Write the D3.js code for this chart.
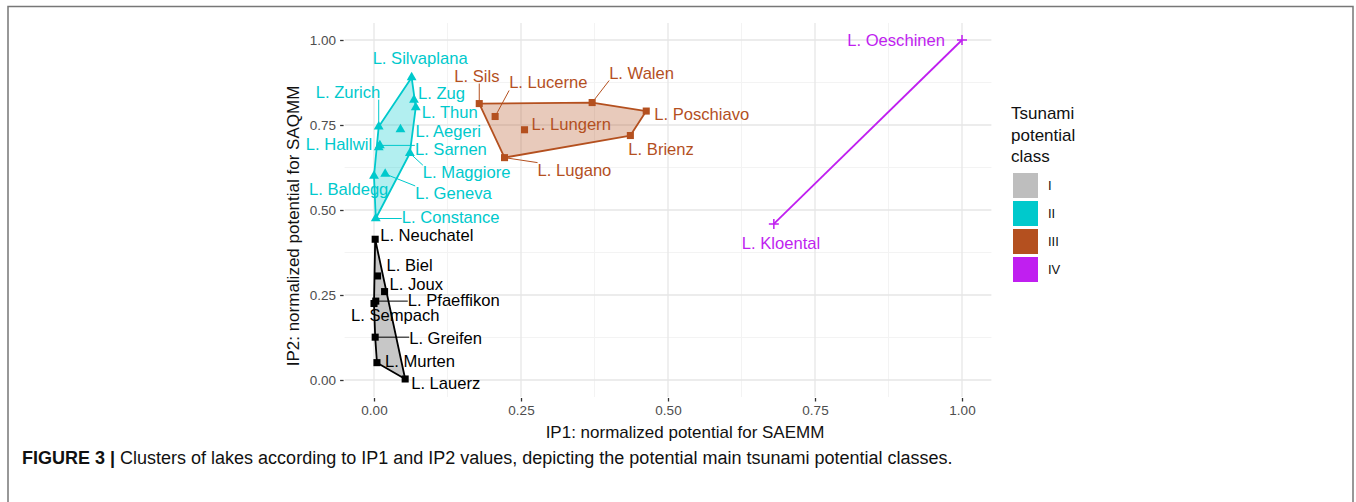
<!DOCTYPE html>
<html>
<head>
<meta charset="utf-8">
<script src="https://cdn.jsdelivr.net/npm/d3@7"></script>
<style>
  body { margin: 0; background: #fff; }
  svg { display: block; font-family: "Liberation Sans", Arial, sans-serif; }
</style>
</head>
<body>
<svg id="chart" width="1356" height="502"></svg>
<script>
//////////////////////////////////////////////////////////////
////////////////////// Data ///////////////////////////////////
//////////////////////////////////////////////////////////////

var classNames = ["I", "II", "III", "IV"];

//lake names, IP1 (x), IP2 (y) and tsunami potential class
var lakeNames = ["Neuchatel", "Biel", "Joux", "Pfaeffikon", "Sempach", "Greifen", "Murten", "Lauerz",
                 "Silvaplana", "Zug", "Thun", "Zurich", "Aegeri", "Hallwil", "Sarnen", "Maggiore", "Geneva", "Baldegg", "Constance",
                 "Sils", "Lucerne", "Walen", "Poschiavo", "Lungern", "Brienz", "Lugano",
                 "Oeschinen", "Kloental"];
var ip1 = [0.002, 0.006, 0.018, 0.003, 0.000, 0.002, 0.005, 0.053,
           0.064, 0.068, 0.071, 0.008, 0.045, 0.008, 0.010, 0.061, 0.019, 0.000, 0.003,
           0.179, 0.206, 0.371, 0.463, 0.256, 0.436, 0.222,
           1.000, 0.680];
var ip2 = [0.414, 0.306, 0.260, 0.232, 0.225, 0.126, 0.051, 0.003,
           0.890, 0.824, 0.802, 0.745, 0.737, 0.684, 0.690, 0.667, 0.606, 0.600, 0.475,
           0.813, 0.775, 0.816, 0.791, 0.736, 0.719, 0.654,
           1.000, 0.459];
var lakeClass = ["I", "I", "I", "I", "I", "I", "I", "I",
                 "II", "II", "II", "II", "II", "II", "II", "II", "II", "II", "II",
                 "III", "III", "III", "III", "III", "III", "III",
                 "IV", "IV"];

var tickValues = [0, 0.25, 0.5, 0.75, 1];

//////////////////////////////////////////////////////////////
/////////////////// Layout and styles /////////////////////////
//////////////////////////////////////////////////////////////

var classColors = {I: "#000000", II: "#00c9cc", III: "#b4501f", IV: "#c01ff0"},
    keyColors = {I: "#bebebe", II: "#00c9cc", III: "#b4501f", IV: "#c01ff0"},
    hullFill = {I: "#000000", II: "#00c9cc", III: "#b4501f"},
    hullOpacity = {I: 0.22, II: 0.3, III: 0.3};

//label placement (like ggrepel) relative to the point, in px: [dx, dy, anchor, segment]
var labelNudge = {
  Neuchatel: [5, -4, "start", 0], Biel: [9, -11, "start", 0], Joux: [5, -8, "start", 0],
  Pfaeffikon: [32, -1, "start", 1], Sempach: [-23, 12, "start", 0], Greifen: [34, 1, "start", 1],
  Murten: [8, -2, "start", 0], Lauerz: [6, 4, "start", 0],
  Silvaplana: [-39, -19, "start", 0], Zug: [4, -7, "start", 0], Thun: [6, 5, "start", 0],
  Zurich: [-63, -35, "start", 1], Aegeri: [15, 2, "start", 0], Hallwil: [-73, -3, "start", 0],
  Sarnen: [35, 4, "start", 1], Maggiore: [13, 19, "start", 1], Geneva: [30, 19, "start", 1],
  Baldegg: [-65, 13, "start", 0], Constance: [26, -1, "start", 1],
  Sils: [-25, -28, "start", 1], Lucerne: [14, -34, "start", 1], Walen: [17, -30, "start", 1],
  Poschiavo: [8, 3, "start", 0], Lungern: [7, -6, "start", 0], Brienz: [-2, 13, "start", 0],
  Lugano: [33, 12, "start", 1],
  Oeschinen: [-17, 0, "end", 0], Kloental: [-32, 19, "start", 0]
};

var svg = d3.select("#chart");

//Frame round the figure
svg.append("path")
  .attr("d", "M8,502 L8,6.5 L1353,6.5 L1353,502")
  .attr("fill", "none")
  .attr("stroke", "#777")
  .attr("stroke-width", 1.5);

var panel = {left: 344.6, right: 991.4, top: 23, bottom: 397};

var x = d3.scaleLinear().domain([-0.05, 1.05]).range([panel.left, panel.right]);
var y = d3.scaleLinear().domain([-0.05, 1.05]).range([panel.bottom, panel.top]);

//////////////////////////////////////////////////////////////
///////////////////////// Grid ////////////////////////////////
//////////////////////////////////////////////////////////////

var minorTicks = [0.125, 0.375, 0.625, 0.875];

var grid = svg.append("g");
grid.selectAll(".minorX").data(minorTicks).enter().append("line")
  .attr("x1", d => x(d)).attr("x2", d => x(d))
  .attr("y1", panel.top).attr("y2", panel.bottom)
  .attr("stroke", "#f3f3f3").attr("stroke-width", 1);
grid.selectAll(".minorY").data(minorTicks).enter().append("line")
  .attr("y1", d => y(d)).attr("y2", d => y(d))
  .attr("x1", panel.left).attr("x2", panel.right)
  .attr("stroke", "#f3f3f3").attr("stroke-width", 1);
grid.selectAll(".majorX").data(tickValues).enter().append("line")
  .attr("x1", d => x(d)).attr("x2", d => x(d))
  .attr("y1", panel.top).attr("y2", panel.bottom)
  .attr("stroke", "#e6e6e6").attr("stroke-width", 1.3);
grid.selectAll(".majorY").data(tickValues).enter().append("line")
  .attr("y1", d => y(d)).attr("y2", d => y(d))
  .attr("x1", panel.left).attr("x2", panel.right)
  .attr("stroke", "#e6e6e6").attr("stroke-width", 1.3);

//Axes
var xAxis = svg.append("g")
  .attr("transform", "translate(0," + (panel.bottom + 1) + ")")
  .call(d3.axisBottom(x).tickValues(tickValues).tickFormat(d3.format(".2f")).tickSize(3.5).tickPadding(4));
var yAxis = svg.append("g")
  .attr("transform", "translate(" + (panel.left - 1) + ",0)")
  .call(d3.axisLeft(y).tickValues(tickValues).tickFormat(d3.format(".2f")).tickSize(3.5).tickPadding(4));
[xAxis, yAxis].forEach(function(a) {
  a.select(".domain").remove();
  a.selectAll(".tick line").attr("stroke", "#333").attr("stroke-width", 1.3);
  a.selectAll(".tick text").attr("fill", "#4d4d4d").style("font-size", "13.5px")
    .style("font-family", "'Liberation Sans', Arial, sans-serif");
});

svg.append("text")
  .attr("x", 685).attr("y", 438)
  .attr("text-anchor", "middle")
  .attr("fill", "#111")
  .style("font-size", "17px")
  .text("IP1: normalized potential for SAEMM");

svg.append("text")
  .attr("transform", "translate(299," + 226 + ") rotate(-90)")
  .attr("text-anchor", "middle")
  .attr("fill", "#111")
  .style("font-size", "17px")
  .text("IP2: normalized potential for SAQMM");

//////////////////////////////////////////////////////////////
////////////////////// Hulls and points ///////////////////////
//////////////////////////////////////////////////////////////

var lakes = lakeNames.map(function(n, i) {
  return {name: n, ip1: ip1[i], ip2: ip2[i], cls: lakeClass[i], px: x(ip1[i]), py: y(ip2[i])};
});

var hullLayer = svg.append("g");
classNames.forEach(function(c) {
  var pts = lakes.filter(d => d.cls === c).map(d => [d.px, d.py]);
  if (pts.length >= 3) {
    var hull = d3.polygonHull(pts);
    hullLayer.append("path")
      .attr("d", "M" + hull.join("L") + "Z")
      .attr("fill", hullFill[c])
      .attr("fill-opacity", hullOpacity[c])
      .attr("stroke", classColors[c])
      .attr("stroke-width", 1.8)
      .attr("stroke-linejoin", "round");
  } else {
    hullLayer.append("path")
      .attr("d", d3.line()(pts))
      .attr("fill", "none")
      .attr("stroke", classColors[c])
      .attr("stroke-width", 1.8);
  }
});

//Labels with repel-style segments
var labelLayer = svg.append("g");
lakes.forEach(function(d) {
  var nudge = labelNudge[d.name];
  var t = labelLayer.append("text")
    .attr("x", d.px + nudge[0])
    .attr("y", d.py + nudge[1])
    .attr("dy", "0.36em")
    .attr("text-anchor", nudge[2])
    .attr("fill", classColors[d.cls])
    .style("font-size", "16.6px")
    .text("L. " + d.name);
  if (nudge[3]) {
    var b = t.node().getBBox();
    var cx = Math.max(b.x, Math.min(d.px, b.x + b.width)),
        cy = Math.max(b.y + 2, Math.min(d.py, b.y + b.height - 2));
    labelLayer.insert("line", "text")
      .attr("x1", d.px).attr("y1", d.py)
      .attr("x2", cx).attr("y2", cy)
      .attr("stroke", classColors[d.cls])
      .attr("stroke-width", 1);
  }
});

var pointLayer = svg.append("g");
pointLayer.selectAll("path").data(lakes).enter().append("path")
  .attr("transform", d => "translate(" + d.px + "," + d.py + ")")
  .attr("d", function(d) {
    if (d.cls === "IV") return "M-5,0L5,0M0,-5L0,5";
    if (d.cls === "II") return d3.symbol(d3.symbolTriangle, 42)();
    return d3.symbol(d3.symbolSquare, 50)();
  })
  .attr("fill", d => d.cls === "IV" ? "none" : classColors[d.cls])
  .attr("stroke", d => d.cls === "IV" ? classColors[d.cls] : "none")
  .attr("stroke-width", 1.5);

//////////////////////////////////////////////////////////////
/////////////////////////// Legend ////////////////////////////
//////////////////////////////////////////////////////////////

var legend = svg.append("g").attr("transform", "translate(1011,0)");
legend.selectAll(".title").data(["Tsunami", "potential", "class"]).enter().append("text")
  .attr("x", 0).attr("y", (d, i) => 119 + i * 21.5)
  .attr("fill", "#111")
  .style("font-size", "17px")
  .text(d => d);

var keys = legend.selectAll(".key").data(classNames).enter().append("g")
  .attr("transform", (d, i) => "translate(2," + (173 + i * 28) + ")");
keys.append("rect")
  .attr("width", 25).attr("height", 25)
  .attr("fill", d => keyColors[d]);
keys.append("text")
  .attr("x", 35).attr("y", 12.5).attr("dy", "0.36em")
  .attr("fill", "#111")
  .style("font-size", "13px")
  .text(d => d);

//////////////////////////////////////////////////////////////
/////////////////////////// Caption ///////////////////////////
//////////////////////////////////////////////////////////////

var caption = svg.append("text")
  .attr("x", 22).attr("y", 464)
  .attr("fill", "#111")
  .style("font-size", "18px");
caption.append("tspan").style("font-weight", "bold").text("FIGURE 3 | ");
caption.append("tspan")
  .text("Clusters of lakes according to IP1 and IP2 values, depicting the potential main tsunami potential classes.");
</script>
</body>
</html>
